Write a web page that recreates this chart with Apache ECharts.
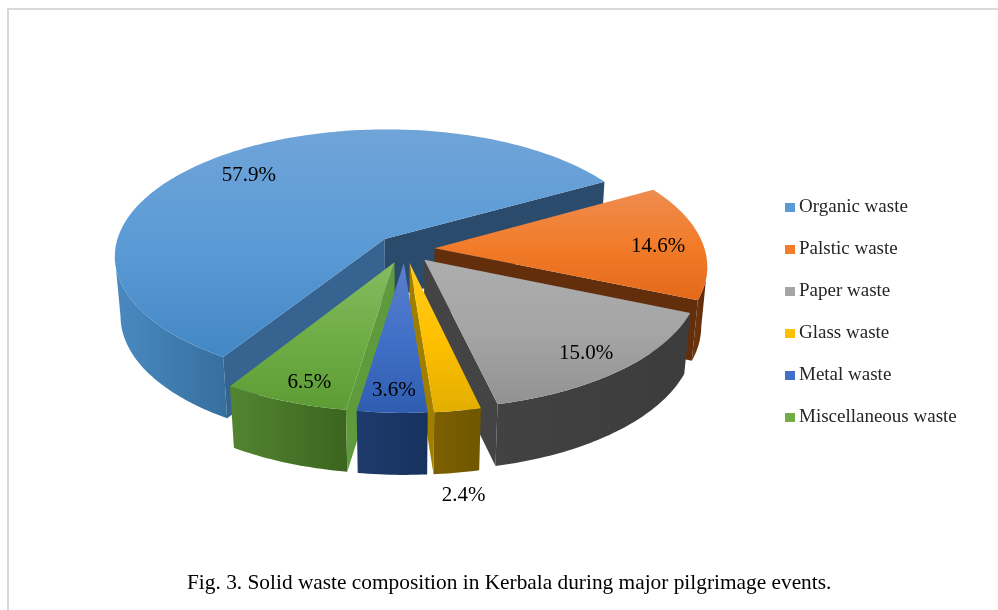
<!DOCTYPE html>
<html>
<head>
<meta charset="utf-8">
<title>Solid waste composition</title>
<style>
  html, body { margin: 0; padding: 0; background: #fff; }
  #chart { width: 998px; height: 610px; }
</style>
<script src="https://cdn.jsdelivr.net/npm/echarts@6/dist/echarts.min.js"></script>
</head>
<body>
<div id="chart"></div>
<script>
  var categories = ['Organic waste', 'Palstic waste', 'Paper waste', 'Glass waste', 'Metal waste', 'Miscellaneous waste'];
  var shares = [57.9, 14.6, 15.0, 2.4, 3.6, 6.5];
  var caption = 'Fig. 3. Solid waste composition in Kerbala during major pilgrimage events.';

  // colours per slice: top face gradient, side wall gradient, cut faces
  var topColors = [
    ['#70a4d9', '#5b9bd5', '#4487c6'],
    ['#ee8c50', '#f27c2a', '#e4691a'],
    ['#adadad', '#a5a5a5', '#929292'],
    ['#ffcb1f', '#ffc000', '#e3ae00'],
    ['#5b7fcb', '#4170c8', '#2f5db0'],
    ['#84bb60', '#70ad47', '#5d9c35']
  ];
  var wallColors = [
    ['#4a89c1', '#36709f'],
    ['#6a330e', '#5a2a0a'],
    ['#424242', '#3c3c3c'],
    ['#7c6000', '#6f5600'],
    ['#1d3b6c', '#17325e'],
    ['#528530', '#3c651f']
  ];
  var cutColors = [
    ['#36638f', '#2b4b6c'],
    ['#622e0b', '#622e0b'],
    ['#444444', '#444444'],
    ['#a07e00', '#a07e00'],
    ['#1d3b6c', '#1d3b6c'],
    ['#5f9a3c', '#5f9a3c']
  ];
  var paintOrder = [1, 2, 3, 4, 6, 5];

  // the pie is a disc seen in perspective, radius 1, then projected to pixels
  var pie = {
    x: 405, y: 249, r: 270, tilt: 0.468, persp: 0.13,
    depth: 60, depthGrow: 0.03, shrink: 0.02, explode: 0.11, firstAngle: 122
  };
  // label placement: radius, 0 top / 1 bottom of the slab, angle nudge
  var labelPlace = [[0.78, 0, -1], [0.83, 0, 2.5], [0.85, 0, 1], [1.13, 1, 0], [0.87, 0, 0], [0.87, 0, -2]];

  function project(u, v, z) {
    var w = 1 - pie.persp * v;
    return [
      pie.x + pie.r * u / (w + pie.shrink * z),
      pie.y + pie.r * pie.tilt * v / w + pie.depth * (1 + pie.depthGrow * v) * z
    ];
  }

  function toRad(a) { return a * Math.PI / 180; }

  var total = shares.reduce(function (a, b) { return a + b; }, 0);
  var starts = [];
  var angle = pie.firstAngle;
  shares.forEach(function (s) {
    starts.push(angle);
    angle += s / total * 360;
  });

  function linear(x0, y0, x1, y1, stops) {
    return {
      type: 'linear', x: x0, y: y0, x2: x1, y2: y1, global: true,
      colorStops: stops.map(function (c, i) {
        return { offset: i / (stops.length - 1), color: c };
      })
    };
  }

  function renderSlice(index) {
    return function (params, api) {
      var start = starts[index];
      var end = start + api.value(0) / total * 360;
      var mid = toRad((start + end) / 2);
      var ox = pie.explode * Math.cos(mid);
      var oy = pie.explode * Math.sin(mid);
      var rim = [], rimLow = [];
      var angles = [];
      for (var a = start; a < end; a += 1) angles.push(a);
      angles.push(end);
      angles.forEach(function (d) {
        rim.push(project(ox + Math.cos(toRad(d)), oy + Math.sin(toRad(d)), 0));
        rimLow.push(project(ox + Math.cos(toRad(d)), oy + Math.sin(toRad(d)), 1));
      });
      var apex = project(ox, oy, 0);
      var apexLow = project(ox, oy, 1);
      var last = rim.length - 1;

      var ys = rim.concat([apex]).map(function (p) { return p[1]; });
      var minY = Math.min.apply(null, ys), maxY = Math.max.apply(null, ys);

      // only the part of the wall facing the viewer: x falls as the angle grows
      var wallTop = [], wallLow = [];
      for (var i = 0; i < last; i++) {
        if (rim[i + 1][0] < rim[i][0]) {
          if (!wallTop.length) {
            wallTop.push(rim[i]);
            wallLow.push(rimLow[i]);
          }
          wallTop.push(rim[i + 1]);
          wallLow.push(rimLow[i + 1]);
        }
      }

      var children = [];
      if (wallTop.length) {
        var wx = wallTop.map(function (p) { return p[0]; });
        children.push({
          type: 'polygon',
          shape: { points: wallTop.concat(wallLow.slice().reverse()) },
          style: { fill: linear(Math.min.apply(null, wx), 0, Math.max.apply(null, wx), 0, wallColors[index]) }
        });
      }
      // cut faces, only where they turn towards the viewer
      if (Math.cos(toRad(start)) < 0) {
        children.push({
          type: 'polygon',
          shape: { points: [apex, rim[0], rimLow[0], apexLow] },
          style: { fill: cutColors[index][0] }
        });
      }
      if (Math.cos(toRad(end)) > 0) {
        children.push({
          type: 'polygon',
          shape: { points: [apex, rim[last], rimLow[last], apexLow] },
          style: { fill: cutColors[index][1] }
        });
      }
      // top face
      children.push({
        type: 'polygon',
        shape: { points: [apex].concat(rim) },
        style: { fill: linear(0, minY, 0, maxY, topColors[index]) }
      });
      // value label
      var place = labelPlace[index];
      var la = mid + toRad(place[2]);
      var lp = project(ox + place[0] * Math.cos(la), oy + place[0] * Math.sin(la), place[1]);
      children.push({
        type: 'text',
        x: lp[0], y: lp[1],
        style: {
          text: api.value(0).toFixed(1) + '%',
          fill: '#000', align: 'center', verticalAlign: 'middle',
          font: '21px "Liberation Serif"'
        }
      });
      return { type: 'group', children: children };
    };
  }

  var chart = echarts.init(document.getElementById('chart'), null, { renderer: 'canvas' });
  chart.setOption({
    animation: false,
    backgroundColor: '#fff',
    textStyle: { fontFamily: 'Liberation Serif' },
    title: {
      text: caption,
      left: 187, top: 573, padding: 0,
      textStyle: { fontFamily: 'Liberation Serif', fontSize: 21.35, fontWeight: 'normal', color: '#000' }
    },
    legend: {
      orient: 'vertical',
      left: 785, top: 198, padding: 0,
      icon: 'rect',
      itemWidth: 10, itemHeight: 9,
      itemGap: 23,
      itemStyle: { borderWidth: 0 },
      selectedMode: false,
      textStyle: { fontFamily: 'Liberation Serif', fontSize: 19, color: '#262626', padding: [0, 0, 0, -1], height: 18, lineHeight: 18 },
      data: categories
    },
    graphic: [
      { type: 'rect', shape: { x: 7, y: 8, width: 991, height: 2 }, style: { fill: '#d9d9d9' } },
      { type: 'rect', shape: { x: 7, y: 8, width: 2, height: 602 }, style: { fill: '#d9d9d9' } }
    ],
    series: categories.map(function (name, i) {
      return {
        type: 'custom',
        name: name,
        coordinateSystem: 'none',
        z: paintOrder[i],
        itemStyle: { color: topColors[i][1] },
        renderItem: renderSlice(i),
        silent: true,
        data: [shares[i]]
      };
    })
  });
</script>
</body>
</html>
